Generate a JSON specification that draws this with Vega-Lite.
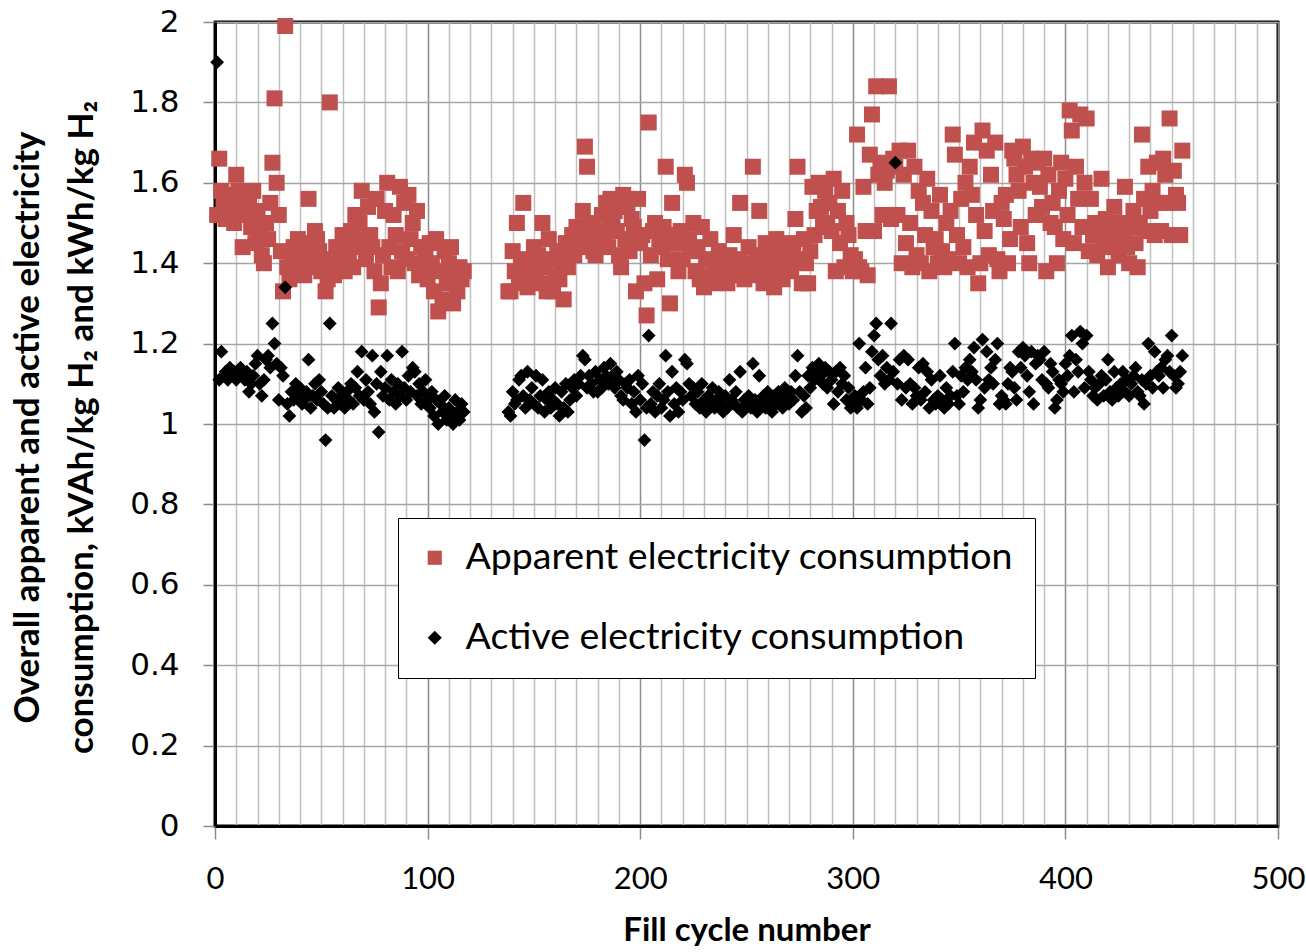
{
  "$schema": "https://vega.github.io/schema/vega-lite/v6.json",
  "width": 1063,
  "height": 804,
  "autosize": {"type": "none"},
  "padding": {"left": 215, "top": 22, "right": 28, "bottom": 126},
  "background": "white",
  "config": {"view": {"stroke": "black", "strokeWidth": 3}},
  "data": {"values": [
    {"x":1,"a":1.52,"b":1.90},{"x":2,"a":1.66,"b":1.11},{"x":3,"a":1.58,"b":1.18},{"x":4,"a":1.55,"b":1.12},{"x":5,"a":1.51,"b":1.13},
    {"x":6,"a":1.57,"b":1.11},{"x":7,"a":1.53,"b":1.14},{"x":8,"a":1.56,"b":1.12},{"x":9,"a":1.50,"b":1.13},{"x":10,"a":1.62,"b":1.11},
    {"x":11,"a":1.58,"b":1.12},{"x":12,"a":1.54,"b":1.14},{"x":13,"a":1.44,"b":1.12},{"x":14,"a":1.57,"b":1.11},{"x":15,"a":1.52,"b":1.13},
    {"x":16,"a":1.55,"b":1.08},{"x":17,"a":1.49,"b":1.10},{"x":18,"a":1.58,"b":1.12},{"x":19,"a":1.45,"b":1.15},{"x":20,"a":1.53,"b":1.17},
    {"x":21,"a":1.47,"b":1.10},{"x":22,"a":1.42,"b":1.07},{"x":23,"a":1.40,"b":1.11},{"x":24,"a":1.50,"b":1.16},{"x":25,"a":1.46,"b":1.17},
    {"x":26,"a":1.55,"b":1.14},{"x":27,"a":1.65,"b":1.25},{"x":28,"a":1.81,"b":1.20},{"x":29,"a":1.60,"b":1.15},{"x":30,"a":1.52,"b":1.06},
    {"x":31,"a":1.43,"b":1.14},{"x":32,"a":1.33,"b":1.12},{"x":33,"a":1.99,"b":1.34},{"x":34,"a":1.39,"b":1.05},{"x":35,"a":1.36,"b":1.02},
    {"x":36,"a":1.41,"b":1.08},{"x":37,"a":1.44,"b":1.06},{"x":38,"a":1.38,"b":1.10},{"x":39,"a":1.46,"b":1.07},{"x":40,"a":1.43,"b":1.09},
    {"x":41,"a":1.40,"b":1.05},{"x":42,"a":1.37,"b":1.06},{"x":43,"a":1.45,"b":1.08},{"x":44,"a":1.56,"b":1.16},{"x":45,"a":1.42,"b":1.04},
    {"x":46,"a":1.39,"b":1.07},{"x":47,"a":1.48,"b":1.10},{"x":48,"a":1.46,"b":1.06},{"x":49,"a":1.43,"b":1.11},{"x":50,"a":1.38,"b":1.08},
    {"x":51,"a":1.41,"b":1.05},{"x":52,"a":1.33,"b":0.96},{"x":53,"a":1.36,"b":1.04},{"x":54,"a":1.80,"b":1.25},{"x":55,"a":1.40,"b":1.07},
    {"x":56,"a":1.37,"b":1.04},{"x":57,"a":1.44,"b":1.06},{"x":58,"a":1.39,"b":1.09},{"x":59,"a":1.42,"b":1.05},{"x":60,"a":1.47,"b":1.07},
    {"x":61,"a":1.38,"b":1.04},{"x":62,"a":1.45,"b":1.08},{"x":63,"a":1.41,"b":1.06},{"x":64,"a":1.48,"b":1.10},{"x":65,"a":1.39,"b":1.05},
    {"x":66,"a":1.52,"b":1.09},{"x":67,"a":1.44,"b":1.13},{"x":68,"a":1.50,"b":1.07},{"x":69,"a":1.58,"b":1.18},{"x":70,"a":1.46,"b":1.06},
    {"x":71,"a":1.41,"b":1.11},{"x":72,"a":1.54,"b":1.08},{"x":73,"a":1.47,"b":1.05},{"x":74,"a":1.44,"b":1.17},{"x":75,"a":1.38,"b":1.03},
    {"x":76,"a":1.56,"b":1.10},{"x":77,"a":1.29,"b":0.98},{"x":78,"a":1.35,"b":1.13},{"x":79,"a":1.42,"b":1.07},{"x":80,"a":1.53,"b":1.09},
    {"x":81,"a":1.60,"b":1.17},{"x":82,"a":1.44,"b":1.06},{"x":83,"a":1.39,"b":1.11},{"x":84,"a":1.52,"b":1.08},{"x":85,"a":1.47,"b":1.05},
    {"x":86,"a":1.38,"b":1.10},{"x":87,"a":1.59,"b":1.07},{"x":88,"a":1.43,"b":1.18},{"x":89,"a":1.55,"b":1.09},{"x":90,"a":1.41,"b":1.06},
    {"x":91,"a":1.57,"b":1.12},{"x":92,"a":1.46,"b":1.08},{"x":93,"a":1.50,"b":1.14},{"x":94,"a":1.40,"b":1.13},{"x":95,"a":1.53,"b":1.07},
    {"x":96,"a":1.37,"b":1.10},{"x":97,"a":1.44,"b":1.05},{"x":98,"a":1.39,"b":1.08},{"x":99,"a":1.42,"b":1.11},{"x":100,"a":1.36,"b":1.06},
    {"x":101,"a":1.45,"b":1.04},{"x":102,"a":1.40,"b":1.08},{"x":103,"a":1.33,"b":1.02},{"x":104,"a":1.46,"b":1.06},{"x":105,"a":1.28,"b":1.00},
    {"x":106,"a":1.38,"b":1.05},{"x":107,"a":1.31,"b":1.03},{"x":108,"a":1.43,"b":1.07},{"x":109,"a":1.35,"b":1.01},{"x":110,"a":1.40,"b":1.04},
    {"x":111,"a":1.44,"b":1.02},{"x":112,"a":1.30,"b":1.00},{"x":113,"a":1.37,"b":1.06},{"x":114,"a":1.33,"b":1.03},{"x":115,"a":1.39,"b":1.01},
    {"x":116,"a":1.36,"b":1.05},{"x":117,"a":1.38,"b":1.03},
    {"x":138,"a":1.33,"b":1.03},{"x":139,"a":1.33,"b":1.02},{"x":140,"a":1.43,"b":1.08},
    {"x":141,"a":1.38,"b":1.05},{"x":142,"a":1.50,"b":1.06},{"x":143,"a":1.35,"b":1.11},{"x":144,"a":1.41,"b":1.12},{"x":145,"a":1.55,"b":1.07},
    {"x":146,"a":1.37,"b":1.04},{"x":147,"a":1.34,"b":1.13},{"x":148,"a":1.40,"b":1.06},{"x":149,"a":1.36,"b":1.09},{"x":150,"a":1.44,"b":1.05},
    {"x":151,"a":1.38,"b":1.12},{"x":152,"a":1.42,"b":1.04},{"x":153,"a":1.35,"b":1.07},{"x":154,"a":1.50,"b":1.11},{"x":155,"a":1.39,"b":1.03},
    {"x":156,"a":1.33,"b":1.06},{"x":157,"a":1.46,"b":1.08},{"x":158,"a":1.41,"b":1.04},{"x":159,"a":1.33,"b":1.06},{"x":160,"a":1.37,"b":1.09},
    {"x":161,"a":1.43,"b":1.05},{"x":162,"a":1.36,"b":1.02},{"x":163,"a":1.40,"b":1.08},{"x":164,"a":1.31,"b":1.04},{"x":165,"a":1.45,"b":1.10},
    {"x":166,"a":1.39,"b":1.03},{"x":167,"a":1.44,"b":1.06},{"x":168,"a":1.47,"b":1.09},{"x":169,"a":1.42,"b":1.11},{"x":170,"a":1.49,"b":1.07},
    {"x":171,"a":1.44,"b":1.10},{"x":172,"a":1.46,"b":1.12},{"x":173,"a":1.53,"b":1.17},{"x":174,"a":1.69,"b":1.16},{"x":175,"a":1.64,"b":1.09},
    {"x":176,"a":1.46,"b":1.12},{"x":177,"a":1.50,"b":1.10},{"x":178,"a":1.43,"b":1.08},{"x":179,"a":1.42,"b":1.13},{"x":180,"a":1.48,"b":1.08},
    {"x":181,"a":1.45,"b":1.11},{"x":182,"a":1.52,"b":1.09},{"x":183,"a":1.47,"b":1.14},{"x":184,"a":1.55,"b":1.12},{"x":185,"a":1.44,"b":1.10},
    {"x":186,"a":1.56,"b":1.15},{"x":187,"a":1.50,"b":1.12},{"x":188,"a":1.53,"b":1.09},{"x":189,"a":1.48,"b":1.13},{"x":190,"a":1.42,"b":1.11},
    {"x":191,"a":1.39,"b":1.07},{"x":192,"a":1.57,"b":1.06},{"x":193,"a":1.46,"b":1.10},{"x":194,"a":1.54,"b":1.09},{"x":195,"a":1.43,"b":1.11},
    {"x":196,"a":1.51,"b":1.05},{"x":197,"a":1.49,"b":1.08},{"x":198,"a":1.33,"b":1.03},{"x":199,"a":1.56,"b":1.12},{"x":200,"a":1.45,"b":1.06},
    {"x":201,"a":1.47,"b":1.10},{"x":202,"a":1.35,"b":0.96},{"x":203,"a":1.27,"b":1.04},{"x":204,"a":1.75,"b":1.22},{"x":205,"a":1.42,"b":1.05},
    {"x":206,"a":1.48,"b":1.08},{"x":207,"a":1.50,"b":1.03},{"x":208,"a":1.36,"b":1.07},{"x":209,"a":1.46,"b":1.10},{"x":210,"a":1.44,"b":1.04},
    {"x":211,"a":1.49,"b":1.06},{"x":212,"a":1.64,"b":1.17},{"x":213,"a":1.41,"b":1.08},{"x":214,"a":1.30,"b":1.02},{"x":215,"a":1.55,"b":1.13},
    {"x":216,"a":1.47,"b":1.05},{"x":217,"a":1.45,"b":1.09},{"x":218,"a":1.38,"b":1.03},{"x":219,"a":1.48,"b":1.08},{"x":220,"a":1.41,"b":1.06},
    {"x":221,"a":1.62,"b":1.16},{"x":222,"a":1.60,"b":1.15},{"x":223,"a":1.46,"b":1.10},{"x":224,"a":1.43,"b":1.07},{"x":225,"a":1.50,"b":1.09},
    {"x":226,"a":1.38,"b":1.05},{"x":227,"a":1.44,"b":1.08},{"x":228,"a":1.36,"b":1.04},{"x":229,"a":1.49,"b":1.10},{"x":230,"a":1.34,"b":1.06},
    {"x":231,"a":1.41,"b":1.03},{"x":232,"a":1.37,"b":1.07},{"x":233,"a":1.46,"b":1.05},{"x":234,"a":1.35,"b":1.09},{"x":235,"a":1.39,"b":1.04},
    {"x":236,"a":1.37,"b":1.06},{"x":237,"a":1.43,"b":1.08},{"x":238,"a":1.36,"b":1.05},{"x":239,"a":1.40,"b":1.03},{"x":240,"a":1.38,"b":1.07},
    {"x":241,"a":1.35,"b":1.04},{"x":242,"a":1.42,"b":1.11},{"x":243,"a":1.39,"b":1.06},{"x":244,"a":1.47,"b":1.05},{"x":245,"a":1.37,"b":1.08},
    {"x":246,"a":1.41,"b":1.04},{"x":247,"a":1.55,"b":1.13},{"x":248,"a":1.38,"b":1.03},{"x":249,"a":1.36,"b":1.06},{"x":250,"a":1.40,"b":1.05},
    {"x":251,"a":1.44,"b":1.07},{"x":252,"a":1.37,"b":1.04},{"x":253,"a":1.64,"b":1.15},{"x":254,"a":1.39,"b":1.06},{"x":255,"a":1.42,"b":1.03},
    {"x":256,"a":1.53,"b":1.12},{"x":257,"a":1.38,"b":1.05},{"x":258,"a":1.35,"b":1.07},{"x":259,"a":1.45,"b":1.04},{"x":260,"a":1.41,"b":1.08},
    {"x":261,"a":1.37,"b":1.06},{"x":262,"a":1.43,"b":1.03},{"x":263,"a":1.34,"b":1.07},{"x":264,"a":1.46,"b":1.05},{"x":265,"a":1.39,"b":1.08},
    {"x":266,"a":1.44,"b":1.06},{"x":267,"a":1.36,"b":1.04},{"x":268,"a":1.42,"b":1.09},{"x":269,"a":1.40,"b":1.07},{"x":270,"a":1.45,"b":1.05},
    {"x":271,"a":1.38,"b":1.08},{"x":272,"a":1.44,"b":1.06},{"x":273,"a":1.51,"b":1.12},{"x":274,"a":1.64,"b":1.17},{"x":275,"a":1.41,"b":1.08},
    {"x":276,"a":1.35,"b":1.03},{"x":277,"a":1.46,"b":1.07},{"x":278,"a":1.40,"b":1.04},{"x":279,"a":1.35,"b":1.12},{"x":280,"a":1.43,"b":1.09},
    {"x":281,"a":1.59,"b":1.14},{"x":282,"a":1.47,"b":1.11},{"x":283,"a":1.53,"b":1.13},{"x":284,"a":1.60,"b":1.15},{"x":285,"a":1.54,"b":1.12},
    {"x":286,"a":1.50,"b":1.10},{"x":287,"a":1.58,"b":1.14},{"x":288,"a":1.49,"b":1.09},{"x":289,"a":1.55,"b":1.13},{"x":290,"a":1.48,"b":1.11},
    {"x":291,"a":1.61,"b":1.05},{"x":292,"a":1.38,"b":1.13},{"x":293,"a":1.53,"b":1.08},{"x":294,"a":1.45,"b":1.14},{"x":295,"a":1.58,"b":1.10},
    {"x":296,"a":1.39,"b":1.12},{"x":297,"a":1.50,"b":1.06},{"x":298,"a":1.47,"b":1.09},{"x":299,"a":1.42,"b":1.04},{"x":300,"a":1.38,"b":1.05},
    {"x":301,"a":1.41,"b":1.07},{"x":302,"a":1.72,"b":1.04},{"x":303,"a":1.39,"b":1.20},{"x":304,"a":1.38,"b":1.06},{"x":305,"a":1.59,"b":1.08},
    {"x":306,"a":1.48,"b":1.14},{"x":307,"a":1.37,"b":1.05},{"x":308,"a":1.67,"b":1.09},{"x":309,"a":1.77,"b":1.18},{"x":310,"a":1.48,"b":1.22},
    {"x":311,"a":1.84,"b":1.25},{"x":312,"a":1.62,"b":1.16},{"x":313,"a":1.65,"b":1.12},{"x":314,"a":1.52,"b":1.17},{"x":315,"a":1.60,"b":1.10},
    {"x":316,"a":1.63,"b":1.14},{"x":317,"a":1.84,"b":1.11},{"x":318,"a":1.51,"b":1.25},{"x":319,"a":1.66,"b":1.13},{"x":320,"a":1.64,"b":1.65},
    {"x":321,"a":1.52,"b":1.10},{"x":322,"a":1.68,"b":1.16},{"x":323,"a":1.40,"b":1.06},{"x":324,"a":1.62,"b":1.17},{"x":325,"a":1.45,"b":1.09},
    {"x":326,"a":1.68,"b":1.16},{"x":327,"a":1.50,"b":1.10},{"x":328,"a":1.39,"b":1.05},{"x":329,"a":1.64,"b":1.09},{"x":330,"a":1.42,"b":1.07},
    {"x":331,"a":1.58,"b":1.14},{"x":332,"a":1.40,"b":1.06},{"x":333,"a":1.55,"b":1.15},{"x":334,"a":1.47,"b":1.08},{"x":335,"a":1.61,"b":1.13},
    {"x":336,"a":1.38,"b":1.04},{"x":337,"a":1.53,"b":1.11},{"x":338,"a":1.44,"b":1.06},{"x":339,"a":1.46,"b":1.05},{"x":340,"a":1.40,"b":1.07},
    {"x":341,"a":1.57,"b":1.12},{"x":342,"a":1.43,"b":1.06},{"x":343,"a":1.39,"b":1.04},{"x":344,"a":1.50,"b":1.09},{"x":345,"a":1.41,"b":1.05},
    {"x":346,"a":1.53,"b":1.07},{"x":347,"a":1.72,"b":1.13},{"x":348,"a":1.67,"b":1.20},{"x":349,"a":1.47,"b":1.07},{"x":350,"a":1.40,"b":1.05},
    {"x":351,"a":1.56,"b":1.12},{"x":352,"a":1.44,"b":1.08},{"x":353,"a":1.60,"b":1.14},{"x":354,"a":1.39,"b":1.11},{"x":355,"a":1.64,"b":1.16},
    {"x":356,"a":1.57,"b":1.13},{"x":357,"a":1.70,"b":1.19},{"x":358,"a":1.52,"b":1.11},{"x":359,"a":1.35,"b":1.04},{"x":360,"a":1.40,"b":1.06},
    {"x":361,"a":1.73,"b":1.21},{"x":362,"a":1.48,"b":1.09},{"x":363,"a":1.68,"b":1.18},{"x":364,"a":1.42,"b":1.11},{"x":365,"a":1.62,"b":1.14},
    {"x":366,"a":1.53,"b":1.10},{"x":367,"a":1.70,"b":1.16},{"x":368,"a":1.41,"b":1.20},{"x":369,"a":1.38,"b":1.05},{"x":370,"a":1.55,"b":1.07},
    {"x":371,"a":1.51,"b":1.06},{"x":372,"a":1.57,"b":1.05},{"x":373,"a":1.40,"b":1.10},{"x":374,"a":1.46,"b":1.14},{"x":375,"a":1.68,"b":1.13},
    {"x":376,"a":1.66,"b":1.09},{"x":377,"a":1.62,"b":1.06},{"x":378,"a":1.58,"b":1.18},{"x":379,"a":1.49,"b":1.14},{"x":380,"a":1.69,"b":1.19},
    {"x":381,"a":1.64,"b":1.17},{"x":382,"a":1.45,"b":1.12},{"x":383,"a":1.40,"b":1.08},{"x":384,"a":1.66,"b":1.18},{"x":385,"a":1.60,"b":1.05},
    {"x":386,"a":1.52,"b":1.15},{"x":387,"a":1.65,"b":1.17},{"x":388,"a":1.59,"b":1.16},{"x":389,"a":1.54,"b":1.11},{"x":390,"a":1.66,"b":1.18},
    {"x":391,"a":1.38,"b":1.10},{"x":392,"a":1.62,"b":1.09},{"x":393,"a":1.50,"b":1.15},{"x":394,"a":1.55,"b":1.13},{"x":395,"a":1.49,"b":1.04},
    {"x":396,"a":1.40,"b":1.06},{"x":397,"a":1.58,"b":1.11},{"x":398,"a":1.65,"b":1.10},{"x":399,"a":1.46,"b":1.08},{"x":400,"a":1.61,"b":1.15},
    {"x":401,"a":1.52,"b":1.12},{"x":402,"a":1.78,"b":1.17},{"x":403,"a":1.73,"b":1.22},{"x":404,"a":1.45,"b":1.08},{"x":405,"a":1.64,"b":1.16},
    {"x":406,"a":1.56,"b":1.13},{"x":407,"a":1.77,"b":1.23},{"x":408,"a":1.49,"b":1.20},{"x":409,"a":1.60,"b":1.09},{"x":410,"a":1.76,"b":1.22},
    {"x":411,"a":1.43,"b":1.13},{"x":412,"a":1.56,"b":1.11},{"x":413,"a":1.47,"b":1.07},{"x":414,"a":1.50,"b":1.09},{"x":415,"a":1.42,"b":1.06},
    {"x":416,"a":1.48,"b":1.10},{"x":417,"a":1.61,"b":1.12},{"x":418,"a":1.45,"b":1.07},{"x":419,"a":1.51,"b":1.11},{"x":420,"a":1.39,"b":1.16},
    {"x":421,"a":1.48,"b":1.08},{"x":422,"a":1.44,"b":1.06},{"x":423,"a":1.54,"b":1.13},{"x":424,"a":1.46,"b":1.09},{"x":425,"a":1.42,"b":1.07},
    {"x":426,"a":1.50,"b":1.10},{"x":427,"a":1.47,"b":1.13},{"x":428,"a":1.59,"b":1.08},{"x":429,"a":1.44,"b":1.11},{"x":430,"a":1.40,"b":1.07},
    {"x":431,"a":1.49,"b":1.10},{"x":432,"a":1.53,"b":1.12},{"x":433,"a":1.45,"b":1.14},{"x":434,"a":1.39,"b":1.08},{"x":435,"a":1.50,"b":1.07},
    {"x":436,"a":1.72,"b":1.11},{"x":437,"a":1.56,"b":1.05},{"x":438,"a":1.48,"b":1.10},{"x":439,"a":1.64,"b":1.20},{"x":440,"a":1.53,"b":1.12},
    {"x":441,"a":1.58,"b":1.09},{"x":442,"a":1.47,"b":1.18},{"x":443,"a":1.65,"b":1.13},{"x":444,"a":1.55,"b":1.12},{"x":445,"a":1.48,"b":1.14},
    {"x":446,"a":1.66,"b":1.09},{"x":447,"a":1.62,"b":1.16},{"x":448,"a":1.55,"b":1.17},{"x":449,"a":1.76,"b":1.13},{"x":450,"a":1.47,"b":1.22},
    {"x":451,"a":1.63,"b":1.12},{"x":452,"a":1.57,"b":1.09},{"x":453,"a":1.55,"b":1.10},{"x":454,"a":1.47,"b":1.13},{"x":455,"a":1.68,"b":1.17}
  ]},
  "encoding": {
    "x": {
      "field": "x",
      "type": "quantitative",
      "scale": {"domain": [0, 500], "nice": false, "zero": false},
      "axis": {
        "values": [0,10,20,30,40,50,60,70,80,90,100,110,120,130,140,150,160,170,180,190,200,210,220,230,240,250,260,270,280,290,300,310,320,330,340,350,360,370,380,390,400,410,420,430,440,450,460,470,480,490,500],
        "labelExpr": "datum.value % 100 === 0 ? datum.label : ''",
        "labelOverlap": false,
        "labelFlush": false,
        "grid": true,
        "gridColor": {"condition": {"test": "datum.value % 100 === 0", "value": "#8c8c8c"}, "value": "#c0c0c0"},
        "gridWidth": 1.5,
        "tickSize": 13,
        "tickWidth": 1.5,
        "tickColor": "#8c8c8c",
        "tickOpacity": {"condition": {"test": "datum.value % 100 === 0", "value": 1}, "value": 0},
        "domainColor": "black",
        "domainWidth": 3,
        "labelFont": "Lato",
        "labelFontSize": 31,
        "labelColor": "black",
        "labelPadding": 25,
        "title": "Fill cycle number",
        "titleFont": "Lato",
        "titleFontSize": 33,
        "titleFontWeight": "bold",
        "titleColor": "black",
        "titlePadding": 20
      }
    }
  },
  "layer": [
    {
      "mark": {"type": "point", "filled": true, "opacity": 1, "size": 256, "strokeWidth": 0},
      "encoding": {
        "y": {
          "field": "a",
          "type": "quantitative",
          "scale": {"domain": [0, 2], "nice": false},
          "axis": {
            "values": [0,0.2,0.4,0.6,0.8,1,1.2,1.4,1.6,1.8,2],
            "format": ".1~f",
            "grid": true,
            "gridColor": "#a6a6a6",
            "gridWidth": 1.5,
            "tickSize": 12,
            "tickWidth": 1.5,
            "tickColor": "#8c8c8c",
            "domainColor": "black",
            "domainWidth": 3,
            "labelFont": "DejaVu Sans",
            "labelFontSize": 31,
            "labelColor": "black",
            "labelPadding": 24,
            "title": ["Overall apparent and active electricity", "consumption, kVAh/kg H₂ and kWh/kg H₂"],
            "titleFont": "Lato",
            "titleFontSize": 35,
            "titleFontWeight": "bold",
            "titleColor": "black",
            "titleAngle": -90,
            "titleAlign": "center",
            "titleBaseline": "top",
            "titleLineHeight": 54,
            "titleX": -205,
            "titleY": 405
          }
        },
        "color": {
          "datum": "Apparent electricity consumption",
          "type": "nominal",
          "scale": {"domain": ["Apparent electricity consumption", "Active electricity consumption"], "range": ["#C0504D", "#000000"]},
          "legend": {
            "orient": "none",
            "legendX": 183,
            "legendY": 496,
            "title": null,
            "fillColor": "white",
            "strokeColor": "black",
            "padding": 21,
            "rowPadding": 41,
            "labelFont": "Lato",
            "labelFontSize": 37.5,
            "labelColor": "black",
            "labelLimit": 0,
            "labelOffset": 12,
            "symbolSize": 200,
            "symbolStrokeWidth": 0,
            "symbolOffset": -3,
            "encode": {"legend": {"update": {"strokeWidth": {"value": 1.5}}}}
          }
        },
        "shape": {
          "datum": "Apparent electricity consumption",
          "type": "nominal",
          "scale": {"domain": ["Apparent electricity consumption", "Active electricity consumption"], "range": ["square", "diamond"]}
        }
      }
    },
    {
      "mark": {"type": "point", "filled": true, "opacity": 1, "size": 190, "strokeWidth": 0},
      "encoding": {
        "y": {
          "field": "b",
          "type": "quantitative",
          "scale": {"domain": [0, 2], "nice": false},
          "axis": {
            "values": [0,0.2,0.4,0.6,0.8,1,1.2,1.4,1.6,1.8,2],
            "format": ".1~f",
            "grid": true,
            "gridColor": "#a6a6a6",
            "gridWidth": 1.5,
            "tickSize": 12,
            "tickWidth": 1.5,
            "tickColor": "#8c8c8c",
            "domainColor": "black",
            "domainWidth": 3,
            "labelFont": "DejaVu Sans",
            "labelFontSize": 31,
            "labelColor": "black",
            "labelPadding": 24,
            "title": ["Overall apparent and active electricity", "consumption, kVAh/kg H₂ and kWh/kg H₂"],
            "titleFont": "Lato",
            "titleFontSize": 35,
            "titleFontWeight": "bold",
            "titleColor": "black",
            "titleAngle": -90,
            "titleAlign": "center",
            "titleBaseline": "top",
            "titleLineHeight": 54,
            "titleX": -205,
            "titleY": 405
          }
        },
        "color": {"datum": "Active electricity consumption", "type": "nominal"},
        "shape": {"datum": "Active electricity consumption", "type": "nominal"}
      }
    }
  ]
}
